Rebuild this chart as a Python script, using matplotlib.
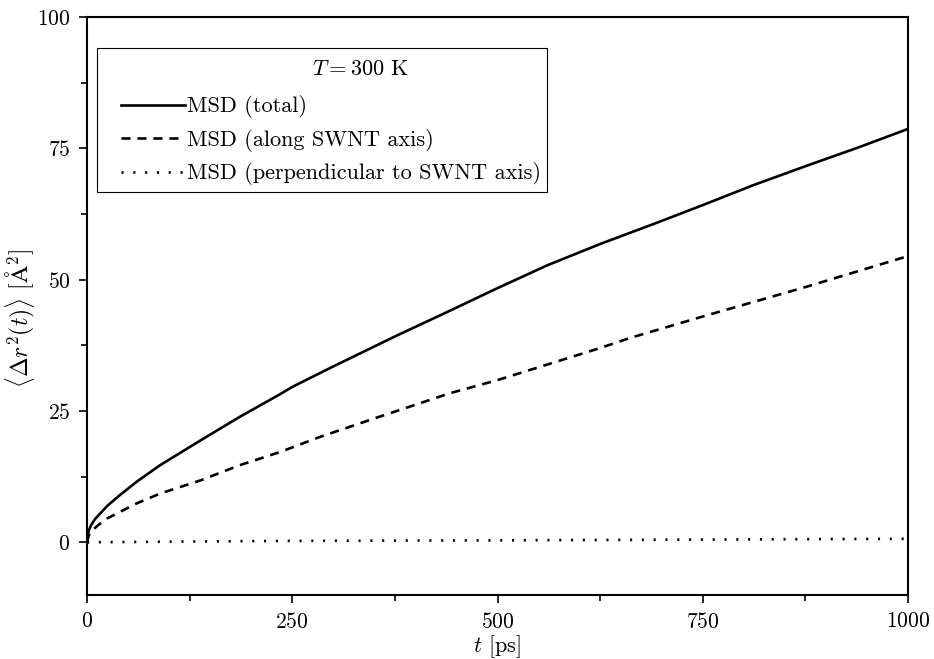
import matplotlib
matplotlib.use("Agg")
import matplotlib.pyplot as plt
from matplotlib.ticker import MultipleLocator
from matplotlib.patches import Rectangle

plt.rcParams['font.family'] = 'serif'
plt.rcParams['font.serif'] = ['cmr10']
plt.rcParams['mathtext.fontset'] = 'cm'
plt.rcParams['axes.formatter.use_mathtext'] = True
plt.rcParams['lines.scale_dashes'] = False

# Data
t_total = [0, 2, 5, 10, 16, 25, 40, 60, 89, 138, 186, 235, 250, 300, 375, 442, 500, 560, 625, 690, 750, 810, 875, 940, 1000]
msd_total = [0, 2.2, 3.3, 4.5, 5.5, 7.0, 9.0, 11.5, 14.7, 19.4, 23.9, 28.2, 29.6, 33.5, 39.2, 44.1, 48.4,
             52.7, 56.8, 60.6, 64.2, 67.9, 71.6, 75.2, 78.7]

t_along = [0, 2, 5, 10, 16, 25, 40, 60, 89, 138, 186, 235, 284, 350, 442, 500, 625, 661, 750, 875, 1000]
msd_along = [0, 1.3, 2.0, 2.8, 3.6, 4.6, 5.8, 7.4, 9.3, 11.8, 14.7, 17.2, 20.1, 23.6, 28.4, 30.9, 37.0, 38.9, 43.0, 48.6, 54.5]

t_perp = [0, 10, 100, 250, 500, 750, 1000]
msd_perp = [0, 0.05, 0.15, 0.3, 0.4, 0.55, 0.7]

labels = ['MSD (total)', 'MSD (along SWNT axis)', 'MSD (perpendicular to SWNT axis)']
legend_title = r'$T = 300$ K'

W, H = 934, 659
fig = plt.figure(figsize=(W / 100, H / 100), dpi=100)
x0, x1, y0, y1 = 87, 908, 17, 595
ax = fig.add_axes([x0 / W, 1 - y1 / H, (x1 - x0) / W, (y1 - y0) / H])


def axfrac(px, py):
    return (px - x0) / (x1 - x0), (y1 - py) / (y1 - y0)


ax.plot(t_total, msd_total, color='black', lw=1.9, label=labels[0])
ax.plot(t_along, msd_along, color='black', lw=1.9, dashes=(6.5, 5), label=labels[1])
ax.plot(t_perp, msd_perp, color='black', lw=1.9, dashes=(1.5, 7), label=labels[2])

ax.set_xlim(0, 1000)
ax.set_ylim(-10, 100)
ax.xaxis.set_major_locator(MultipleLocator(250))
ax.xaxis.set_minor_locator(MultipleLocator(125))
ax.yaxis.set_major_locator(MultipleLocator(25))
ax.yaxis.set_minor_locator(MultipleLocator(12.5))
ax.tick_params(which='both', direction='out', top=False, right=False, labelsize=15.5, width=1.2)
ax.tick_params(which='major', length=6, pad=6)
ax.tick_params(which='minor', length=4)
for s in ax.spines.values():
    s.set_linewidth(1.5)

ax.set_xlabel(r'$t$ [ps]', fontsize=16, labelpad=1.5)
ax.set_ylabel(r'$\langle \Delta r^2(t) \rangle$ [$\mathrm{\AA}^2$]', fontsize=17)
lx, ly = axfrac(37, 319)
ax.yaxis.set_label_coords(lx, ly)

# Legend entries (no frame), title and frame drawn separately to match layout
ax_x, ax_y = axfrac(121, 95.5)
leg = ax.legend(loc='upper left', bbox_to_anchor=(ax_x, ax_y), fontsize=16,
                frameon=False, handlelength=2.9, handletextpad=0.05,
                borderpad=0, labelspacing=0.47, borderaxespad=0)

tx, ty = axfrac(361, 69)
ax.text(tx, ty, legend_title, transform=ax.transAxes, ha='center', va='center', fontsize=16)

fx, fy = axfrac(97, 192)
fx2, fy2 = axfrac(547, 48)
ax.add_patch(Rectangle((fx, fy), fx2 - fx, fy2 - fy, transform=ax.transAxes,
                       fill=False, edgecolor='black', lw=0.8, zorder=5))

fig.savefig('out.png', dpi=100)
